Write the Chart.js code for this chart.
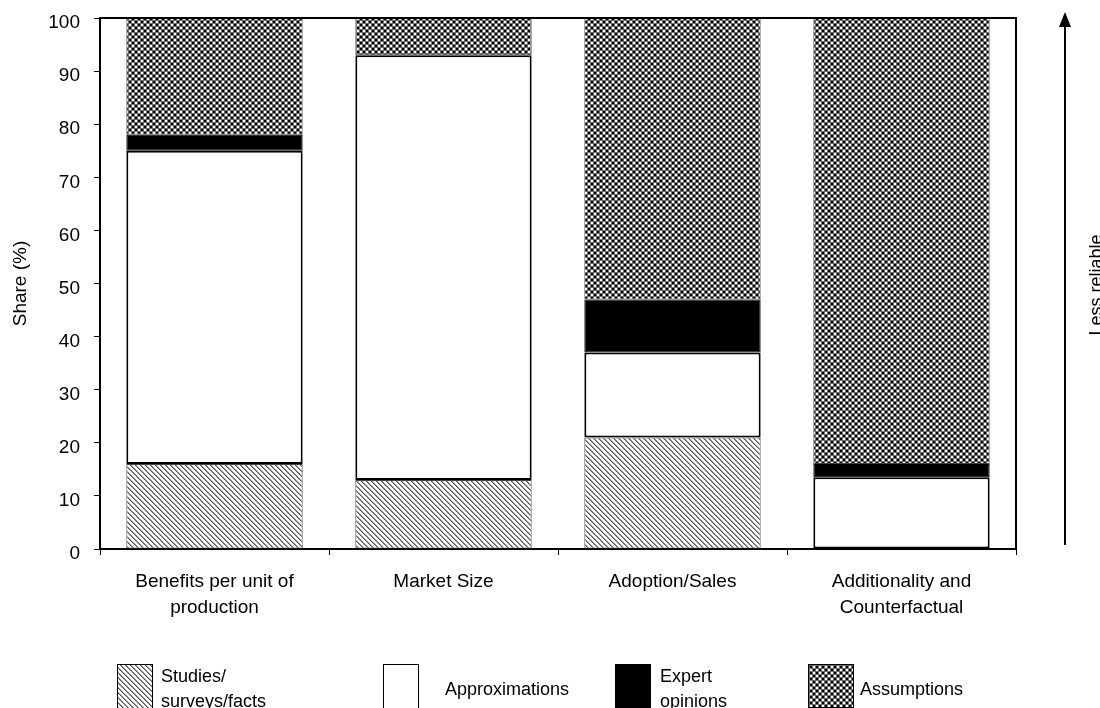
<!DOCTYPE html>
<html>
<head>
<meta charset="utf-8">
<script src="https://cdn.jsdelivr.net/npm/chart.js@4"></script>
<style>
    html, body { margin: 0; padding: 0; background: #fff; }
    #wrap { width: 1100px; height: 708px; }
</style>
</head>
<body>
<div id="wrap"><canvas id="chart" width="1100" height="708"></canvas></div>
<script>
const categories = [['Benefits per unit of', 'production'], 'Market Size', 'Adoption/Sales', ['Additionality and', 'Counterfactual']],
    studies = [16, 13, 21, 0],
    approximations = [59, 80, 16, 13.5],
    expertOpinions = [3, 0, 10, 2.5],
    assumptions = [22, 7, 53, 84],
    yTicks = [0, 10, 20, 30, 40, 50, 60, 70, 80, 90, 100];

const FONT = 'Liberation Sans, Arial, sans-serif';

// little tiles used as fill patterns
function makeHatch() {
    const c = document.createElement('canvas');
    c.width = 5; c.height = 5;
    const g = c.getContext('2d');
    g.fillStyle = '#fff';
    g.fillRect(0, 0, 5, 5);
    for (let y = 0; y < 5; y++) {
        for (let x = 0; x < 5; x++) {
            const d = ((x - y) % 5 + 5) % 5;
            if (d === 0) { g.fillStyle = '#555'; g.fillRect(x, y, 1, 1); }
            if (d === 1) { g.fillStyle = '#999'; g.fillRect(x, y, 1, 1); }
        }
    }
    return g.createPattern(c, 'repeat');
}

function makeChecker() {
    const c = document.createElement('canvas');
    c.width = 6; c.height = 6;
    const g = c.getContext('2d');
    g.fillStyle = '#6e6e6e';
    g.fillRect(0, 0, 6, 6);
    g.fillStyle = '#000';
    g.fillRect(0, 0, 2, 2);
    g.fillRect(3, 3, 2, 2);
    g.fillStyle = '#fff';
    g.fillRect(3, 0, 2, 2);
    g.fillRect(0, 3, 2, 2);
    return g.createPattern(c, 'repeat');
}

const hatch = makeHatch(),
    checker = makeChecker();

const legendItems = [
    { fill: hatch, box: [117, 664, 35, 44], lines: ['Studies/', 'surveys/facts'], tx: 161 },
    { fill: '#fff', box: [383, 664, 35, 44], lines: ['Approximations'], tx: 445 },
    { fill: '#000', box: [615, 664, 35, 44], lines: ['Expert', 'opinions'], tx: 660 },
    { fill: checker, box: [808, 664, 45, 43], lines: ['Assumptions'], tx: 860 }
];

const extras = {
    id: 'extras',
    afterDraw(chart) {
        const ctx = chart.ctx, a = chart.chartArea;
        ctx.save();
        // top and right frame
        ctx.strokeStyle = '#000';
        ctx.lineWidth = 2;
        ctx.beginPath();
        ctx.moveTo(a.left, a.top);
        ctx.lineTo(a.right, a.top);
        ctx.lineTo(a.right, a.bottom);
        ctx.stroke();

        // reliability arrow
        ctx.lineWidth = 2;
        ctx.beginPath();
        ctx.moveTo(1065, 545);
        ctx.lineTo(1065, 22);
        ctx.stroke();
        ctx.fillStyle = '#000';
        ctx.beginPath();
        ctx.moveTo(1065, 12);
        ctx.lineTo(1059, 27);
        ctx.lineTo(1071, 27);
        ctx.closePath();
        ctx.fill();

        ctx.font = '18px ' + FONT;
        ctx.textAlign = 'center';
        ctx.textBaseline = 'middle';
        ctx.translate(1097, 285);
        ctx.rotate(-Math.PI / 2);
        ctx.fillText('Less reliable', 0, 0);
        ctx.restore();

        // legend
        ctx.save();
        ctx.font = '18px ' + FONT;
        ctx.textBaseline = 'middle';
        ctx.textAlign = 'left';
        legendItems.forEach(it => {
            const [x, y, w, h] = it.box;
            ctx.fillStyle = it.fill;
            ctx.fillRect(x, y, w, h);
            ctx.strokeStyle = '#000';
            ctx.lineWidth = 1;
            ctx.strokeRect(x + 0.5, y + 0.5, w, h);
            ctx.fillStyle = '#000';
            if (it.lines.length === 1) {
                ctx.fillText(it.lines[0], it.tx, 690);
            } else {
                ctx.fillText(it.lines[0], it.tx, 677);
                ctx.fillText(it.lines[1], it.tx, 702);
            }
        });
        ctx.restore();
    }
};

new Chart(document.getElementById('chart'), {
    type: 'bar',
    data: {
        labels: categories,
        datasets: [{
            label: 'Studies/surveys/facts',
            data: studies,
            backgroundColor: hatch,
            borderColor: '#444',
            borderWidth: 1
        }, {
            label: 'Approximations',
            data: approximations,
            backgroundColor: '#fff',
            borderColor: '#000',
            borderWidth: 2
        }, {
            label: 'Expert opinions',
            data: expertOpinions,
            backgroundColor: '#000',
            borderColor: '#000',
            borderWidth: 1
        }, {
            label: 'Assumptions',
            data: assumptions,
            backgroundColor: checker,
            borderColor: '#444',
            borderWidth: 1
        }]
    },
    options: {
        responsive: false,
        animation: false,
        layout: { padding: { top: 18, right: 84, bottom: 0, left: 0 } },
        datasets: {
            bar: {
                categoryPercentage: 1,
                barPercentage: 0.77,
                borderSkipped: false
            }
        },
        plugins: {
            legend: { display: false },
            tooltip: { enabled: false }
        },
        scales: {
            x: {
                stacked: true,
                afterFit: s => { s.height = 159; s.paddingLeft = 0; s.paddingRight = 0; },
                border: { color: '#000', width: 2 },
                grid: { display: true, drawOnChartArea: false, color: '#000', tickLength: 6, offset: true },
                ticks: {
                    color: '#000',
                    padding: 14,
                    maxRotation: 0,
                    font: { family: FONT, size: 19, lineHeight: 1.37 }
                }
            },
            y: {
                stacked: true,
                min: 0,
                max: 100,
                afterFit: s => { s.width = 100; s.paddingTop = 0; s.paddingBottom = 0; },
                afterBuildTicks: s => { s.ticks = yTicks.map(v => ({ value: v })); },
                border: { color: '#000', width: 2 },
                grid: { display: true, drawOnChartArea: false, color: '#000', tickLength: 6 },
                ticks: {
                    color: '#000',
                    padding: 14,
                    labelOffset: 5,
                    font: { family: FONT, size: 19 }
                },
                title: {
                    display: true,
                    text: 'Share (%)',
                    color: '#000',
                    padding: { top: 9 },
                    font: { family: FONT, size: 19 }
                }
            }
        }
    },
    plugins: [extras]
});
</script>
</body>
</html>
